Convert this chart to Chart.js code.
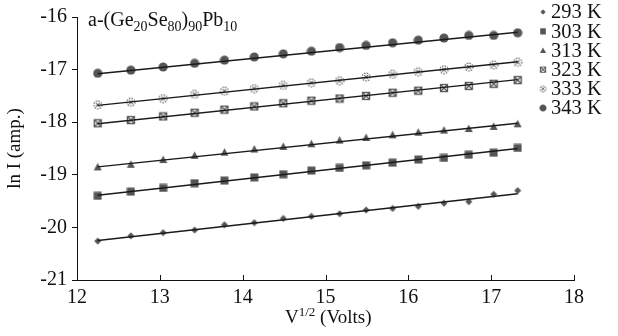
<!DOCTYPE html>
<html>
<head>
<meta charset="utf-8">
<script src="https://cdn.jsdelivr.net/npm/chart.js@4/dist/chart.umd.min.js"></script>
<style>
  html, body { margin: 0; padding: 0; background: #fff; }
  #wrap { width: 618px; height: 336px; position: relative; }
</style>
</head>
<body>
<div id="wrap"><canvas id="c" width="618" height="336"></canvas></div>
<script>
// ---- data ----
const temperatures = ['293 K', '303 K', '313 K', '323 K', '333 K', '343 K'];
const sqrtVolts = [12.25, 12.65, 13.04, 13.42, 13.78, 14.14, 14.49, 14.83, 15.17, 15.49, 15.81, 16.12, 16.43, 16.73, 17.03, 17.32];
const lnI_293 = [-20.26, -20.16, -20.10, -20.05, -19.95, -19.91, -19.83, -19.79, -19.74, -19.67, -19.64, -19.60, -19.54, -19.51, -19.37, -19.30];
const lnI_303 = [-19.40, -19.32, -19.25, -19.16, -19.11, -19.05, -18.99, -18.92, -18.87, -18.82, -18.77, -18.71, -18.68, -18.62, -18.58, -18.49];
const lnI_313 = [-18.85, -18.80, -18.71, -18.63, -18.57, -18.51, -18.46, -18.41, -18.34, -18.29, -18.24, -18.19, -18.15, -18.12, -18.08, -18.03];
const lnI_323 = [-18.02, -17.96, -17.89, -17.82, -17.76, -17.70, -17.64, -17.59, -17.55, -17.50, -17.44, -17.40, -17.35, -17.31, -17.27, -17.20];
const lnI_333 = [-17.67, -17.62, -17.55, -17.47, -17.41, -17.36, -17.30, -17.25, -17.21, -17.14, -17.09, -17.04, -17.00, -16.95, -16.91, -16.86];
const lnI_343 = [-17.07, -17.01, -16.95, -16.88, -16.82, -16.76, -16.70, -16.65, -16.58, -16.54, -16.49, -16.44, -16.40, -16.35, -16.35, -16.30];
// fitted straight lines: value at first and last voltage
const fitStart = [-20.25, -19.39, -18.85, -18.03, -17.68, -17.08];
const fitEnd   = [-19.36, -18.50, -18.02, -17.19, -16.85, -16.29];
const xTicks = [12, 13, 14, 15, 16, 17, 18];
const yTicks = [-21, -20, -19, -18, -17, -16];

const seriesValues = [lnI_293, lnI_303, lnI_313, lnI_323, lnI_333, lnI_343];

// ---- marker glyphs ----
const MK = '#555';
function mk(size, fn) {
  const c = document.createElement('canvas');
  c.width = size; c.height = size;
  const g = c.getContext('2d');
  fn(g, size);
  return c;
}
const markers = [
  mk(8, g => { g.fillStyle = MK; g.beginPath(); g.moveTo(4, 0.5); g.lineTo(7.5, 4); g.lineTo(4, 7.5); g.lineTo(0.5, 4); g.closePath(); g.fill(); }),
  mk(9, g => { g.fillStyle = MK; g.fillRect(0.5, 0.5, 8, 8); }),
  mk(9, g => { g.fillStyle = MK; g.beginPath(); g.moveTo(4.5, 0.5); g.lineTo(8.5, 8); g.lineTo(0.5, 8); g.closePath(); g.fill(); }),
  mk(10, g => { g.strokeStyle = MK; g.lineWidth = 1.3; g.fillStyle = '#fff'; g.fillRect(1, 1, 8, 8); g.strokeRect(1.5, 1.5, 7, 7); g.beginPath(); g.moveTo(2, 2); g.lineTo(8, 8); g.moveTo(8, 2); g.lineTo(2, 8); g.stroke(); }),
  mk(10, g => { g.strokeStyle = '#666'; g.lineWidth = 1.2; g.fillStyle = '#fff'; g.beginPath(); g.arc(5, 5, 4, 0, Math.PI * 2); g.fill(); g.setLineDash([1.5, 1.2]); g.stroke(); g.setLineDash([]); g.beginPath(); g.moveTo(3.2, 3.2); g.lineTo(6.8, 6.8); g.moveTo(6.8, 3.2); g.lineTo(3.2, 6.8); g.stroke(); }),
  mk(10, g => { g.fillStyle = MK; g.beginPath(); g.arc(5, 5, 4.6, 0, Math.PI * 2); g.fill(); })
];

// ---- datasets ----
const datasets = [];
seriesValues.forEach((vals, i) => {
  datasets.push({
    label: temperatures[i],
    data: sqrtVolts.map((x, k) => ({ x: x, y: vals[k] })),
    showLine: false,
    pointStyle: markers[i],
    pointRadius: 4,
    order: 2
  });
  datasets.push({
    label: temperatures[i] + ' fit',
    type: 'line',
    data: [{ x: sqrtVolts[0], y: fitStart[i] }, { x: sqrtVolts[sqrtVolts.length - 1], y: fitEnd[i] }],
    borderColor: '#1a1a1a',
    borderWidth: 1.4,
    pointRadius: 0,
    fill: false,
    order: 1
  });
});

const SERIF = '"Liberation Serif", "DejaVu Serif", serif';

const deco = {
  id: 'deco',
  afterDraw(chart) {
    const ctx = chart.ctx;
    const xs = chart.scales.x;
    const area = chart.chartArea;
    ctx.save();
    // inward ticks on the x axis
    ctx.strokeStyle = '#111';
    ctx.lineWidth = 1;
    xTicks.forEach(v => {
      const px = Math.round(xs.getPixelForValue(v)) + 0.5;
      ctx.beginPath();
      ctx.moveTo(px, area.bottom);
      ctx.lineTo(px, area.bottom - 5);
      ctx.stroke();
    });
    // composition label
    ctx.fillStyle = '#111';
    ctx.textBaseline = 'alphabetic';
    ctx.textAlign = 'left';
    const parts = [['a-(Ge', 0], ['20', 1], ['Se', 0], ['80', 1], [')', 0], ['90', 1], ['Pb', 0], ['10', 1]];
    let x = 88;
    parts.forEach(([t, sub]) => {
      ctx.font = (sub ? '14px ' : '20px ') + SERIF;
      ctx.fillText(t, x, sub ? 31 : 26);
      x += ctx.measureText(t).width;
    });
    // x axis title with superscript
    const tparts = [['V', 0], ['1/2', 1], [' (Volts)', 0]];
    x = 285;
    tparts.forEach(([t, sup]) => {
      ctx.font = (sup ? '13px ' : '19px ') + SERIF;
      ctx.fillText(t, x, sup ? 316 : 323);
      x += ctx.measureText(t).width;
    });
    // legend
    ctx.font = '20.5px ' + SERIF;
    ctx.textBaseline = 'middle';
    temperatures.forEach((t, i) => {
      const y = 12 + i * 19.2;
      const m = markers[i];
      const s = 0.75;
      const w = m.width * s, h = m.height * s;
      ctx.drawImage(m, 543 - w / 2, y - h / 2, w, h);
      ctx.fillText(t, 551, y + 1);
    });
    ctx.restore();
  }
};

new Chart(document.getElementById('c'), {
  type: 'scatter',
  data: { datasets: datasets },
  options: {
    responsive: false,
    animation: false,
    devicePixelRatio: 1,
    layout: { padding: { left: 0, top: 14, right: 44, bottom: 0 } },
    plugins: { legend: { display: false }, tooltip: { enabled: false } },
    scales: {
      x: {
        type: 'linear',
        min: 12, max: 18,
        afterFit: s => { s.height = 56; },
        afterBuildTicks: s => { s.ticks = xTicks.map(v => ({ value: v })); },
        ticks: { font: { family: SERIF, size: 20 }, color: '#111', padding: 6 },
        grid: { display: true, drawOnChartArea: false, drawTicks: false },
        border: { color: '#111', width: 1 }
      },
      y: {
        type: 'linear',
        min: -21, max: -16,
        afterFit: s => { s.width = 77; },
        afterBuildTicks: s => { s.ticks = yTicks.map(v => ({ value: v })); },
        ticks: { font: { family: SERIF, size: 20 }, color: '#111', padding: 5 },
        grid: { display: true, drawOnChartArea: false, drawTicks: true, tickLength: 5, tickColor: '#111' },
        border: { color: '#111', width: 1 },
        title: { display: true, text: 'ln I (amp.)', font: { family: SERIF, size: 19 }, color: '#111', padding: { top: 4, bottom: 0 } }
      }
    }
  },
  plugins: [deco]
});
</script>
</body>
</html>
